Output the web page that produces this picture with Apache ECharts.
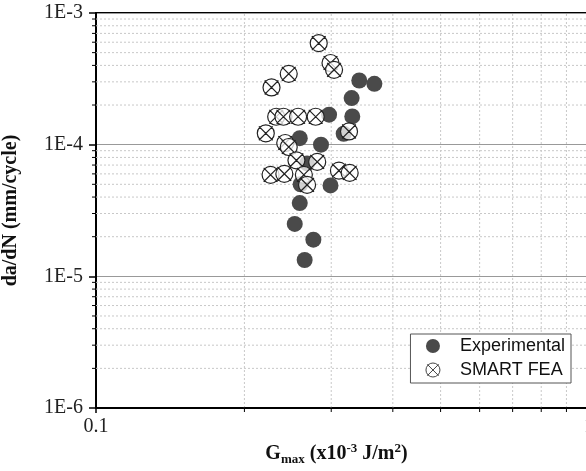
<!DOCTYPE html>
<html>
<head>
<meta charset="utf-8">
<script src="https://cdn.jsdelivr.net/npm/echarts@6/dist/echarts.min.js"></script>
<style>
  html, body { margin: 0; padding: 0; background: #fff; }
  #chart { width: 586px; height: 471px; }
</style>
</head>
<body>
<div id="chart"></div>
<script>
// Experimental points: [Gmax (x10^-3 J/m2), da/dN (mm/cycle)]
const expG = [0.342, 0.367, 0.330, 0.297, 0.331, 0.318, 0.259, 0.286, 0.268, 0.260, 0.299, 0.259, 0.253, 0.276, 0.265];
const expRate = [3.07e-4, 2.90e-4, 2.26e-4, 1.69e-4, 1.64e-4, 1.21e-4, 1.12e-4, 1.00e-4, 7.2e-5, 5.0e-5, 4.9e-5, 3.6e-5, 2.5e-5, 1.9e-5, 1.33e-5];

// SMART FEA predictions
const feaG = [0.283, 0.299, 0.304, 0.246, 0.227, 0.232, 0.240, 0.257, 0.279, 0.221, 0.326, 0.242, 0.246, 0.255, 0.281, 0.226, 0.241, 0.264, 0.311, 0.327, 0.268];
const feaRate = [5.9e-4, 4.17e-4, 3.7e-4, 3.45e-4, 2.72e-4, 1.63e-4, 1.63e-4, 1.63e-4, 1.63e-4, 1.22e-4, 1.26e-4, 1.03e-4, 9.6e-5, 7.6e-5, 7.4e-5, 5.9e-5, 6.0e-5, 5.9e-5, 6.35e-5, 6.1e-5, 4.95e-5];

const xRange = [0.1, 1];
const yRange = [1e-6, 1e-3];
const xTicks = [0.1, 1];
// minor (2..9) gridlines of the log axes
const xMinor = [0.2, 0.3, 0.4, 0.5, 0.6, 0.7, 0.8, 0.9];
const yMinor = [2e-6, 3e-6, 4e-6, 5e-6, 6e-6, 7e-6, 8e-6, 9e-6,
                2e-5, 3e-5, 4e-5, 5e-5, 6e-5, 7e-5, 8e-5, 9e-5,
                2e-4, 3e-4, 4e-4, 5e-4, 6e-4, 7e-4, 8e-4, 9e-4];
const seriesNames = ['Experimental', 'SMART FEA'];

const crossSymbol = 'path://M2,10 A8,8 0 1,1 18,10 A8,8 0 1,1 2,10 Z M3.5,3.5 L16.5,16.5 M16.5,3.5 L3.5,16.5';
const serif = 'Liberation Serif, Times New Roman, serif';
const gridDash = { stroke: '#c8c8c8', lineWidth: 1, lineDash: [2, 2] };

function pairs(xs, ys) {
    return xs.map((x, i) => [x, ys[i]]);
}

// horizontal minor gridline + small outward tick on the left axis
function renderYMinor(params, api) {
    const v = api.value(1);
    const a = api.coord([xRange[0], v]);
    const b = api.coord([xRange[1], v]);
    return {
        type: 'group',
        children: [
            { type: 'line', shape: { x1: a[0], y1: a[1], x2: b[0], y2: b[1] }, style: gridDash },
            { type: 'line', shape: { x1: a[0] - 4, y1: a[1], x2: a[0], y2: a[1] }, style: { stroke: '#000', lineWidth: 1 } }
        ]
    };
}

// vertical minor gridline + small tick under the bottom axis
function renderXMinor(params, api) {
    const v = api.value(0);
    const a = api.coord([v, yRange[0]]);
    const b = api.coord([v, yRange[1]]);
    return {
        type: 'group',
        children: [
            { type: 'line', shape: { x1: a[0], y1: a[1], x2: b[0], y2: b[1] }, style: gridDash },
            { type: 'line', shape: { x1: a[0], y1: a[1] - 1, x2: a[0], y2: a[1] + 4 }, style: { stroke: '#000', lineWidth: 1 } }
        ]
    };
}

const chart = echarts.init(document.getElementById('chart'));

chart.setOption({
    backgroundColor: '#fff',
    animation: false,
    grid: {
        left: 96,
        right: -3,
        top: 13,
        bottom: 63,
        outerBoundsMode: 'none',
        containLabel: false,
        show: true,
        borderColor: '#000',
        borderWidth: 2
    },
    legend: {
        orient: 'vertical',
        right: 15,
        top: 334,
        padding: [3, 6, 4, 15],
        itemGap: 6,
        itemWidth: 44,
        itemHeight: 14,
        backgroundColor: '#fff',
        borderColor: '#555',
        borderWidth: 1,
        textStyle: { fontFamily: 'Liberation Sans, Arial, sans-serif', fontSize: 18, color: '#111' },
        data: [
            { name: seriesNames[0] },
            { name: seriesNames[1], itemStyle: { borderWidth: 1, borderColor: '#444' } }
        ]
    },
    xAxis: {
        type: 'log',
        logBase: 10,
        min: xRange[0],
        max: xRange[1],
        name: '{b|G}{sub|max}{b| (x10}{sup|-3}{b| J/m}{sup|2}{b|)}',
        nameLocation: 'middle',
        nameGap: 30,
        nameTextStyle: {
            padding: [0, 12, 0, 0],
            rich: {
                b: { fontFamily: serif, fontWeight: 'bold', fontSize: 20, color: '#111' },
                sub: { fontFamily: serif, fontWeight: 'bold', fontSize: 13, color: '#111', padding: [12, 0, 0, 0] },
                sup: { fontFamily: serif, fontWeight: 'bold', fontSize: 13, color: '#111', padding: [0, 0, 10, 0] }
            }
        },
        axisLine: { onZero: false, lineStyle: { color: '#000', width: 2 } },
        axisTick: { show: true, length: 5, lineStyle: { color: '#000', width: 1.5 } },
        axisLabel: {
            margin: 9,
            fontFamily: serif,
            fontSize: 20,
            color: '#222',
            formatter: v => (xTicks.some(t => Math.abs(t - v) < 1e-9) ? String(v) : '')
        },
        splitLine: { show: true, lineStyle: { color: '#999', width: 1 } }
    },
    yAxis: {
        type: 'log',
        logBase: 10,
        min: yRange[0],
        max: yRange[1],
        name: 'da/dN (mm/cycle)',
        nameLocation: 'middle',
        nameGap: 75,
        nameTextStyle: { fontFamily: serif, fontWeight: 'bold', fontSize: 20, color: '#111' },
        axisLine: { onZero: false, lineStyle: { color: '#000', width: 2 } },
        axisTick: { show: true, length: 7, lineStyle: { color: '#000', width: 1.5 } },
        axisLabel: {
            margin: 13,
            fontFamily: serif,
            fontSize: 20,
            color: '#222',
            formatter: v => '1E' + Math.round(Math.log10(v))
        },
        splitLine: { show: true, lineStyle: { color: '#999', width: 1 } }
    },
    series: [
        {
            type: 'custom',
            silent: true,
            clip: false,
            z: 1,
            renderItem: renderYMinor,
            data: yMinor.map(v => [xRange[0], v])
        },
        {
            type: 'custom',
            silent: true,
            clip: false,
            z: 1,
            renderItem: renderXMinor,
            data: xMinor.map(v => [v, yRange[0]])
        },
        {
            name: seriesNames[0],
            type: 'scatter',
            symbol: 'circle',
            symbolSize: 16,
            z: 3,
            itemStyle: { color: '#4a4a4a', opacity: 1 },
            data: pairs(expG, expRate)
        },
        {
            name: seriesNames[1],
            type: 'scatter',
            symbol: crossSymbol,
            symbolSize: 17,
            z: 3,
            itemStyle: { color: 'rgba(255,255,255,0.75)', borderColor: '#222', borderWidth: 1.2, opacity: 1 },
            data: pairs(feaG, feaRate)
        }
    ]
});
</script>
</body>
</html>
